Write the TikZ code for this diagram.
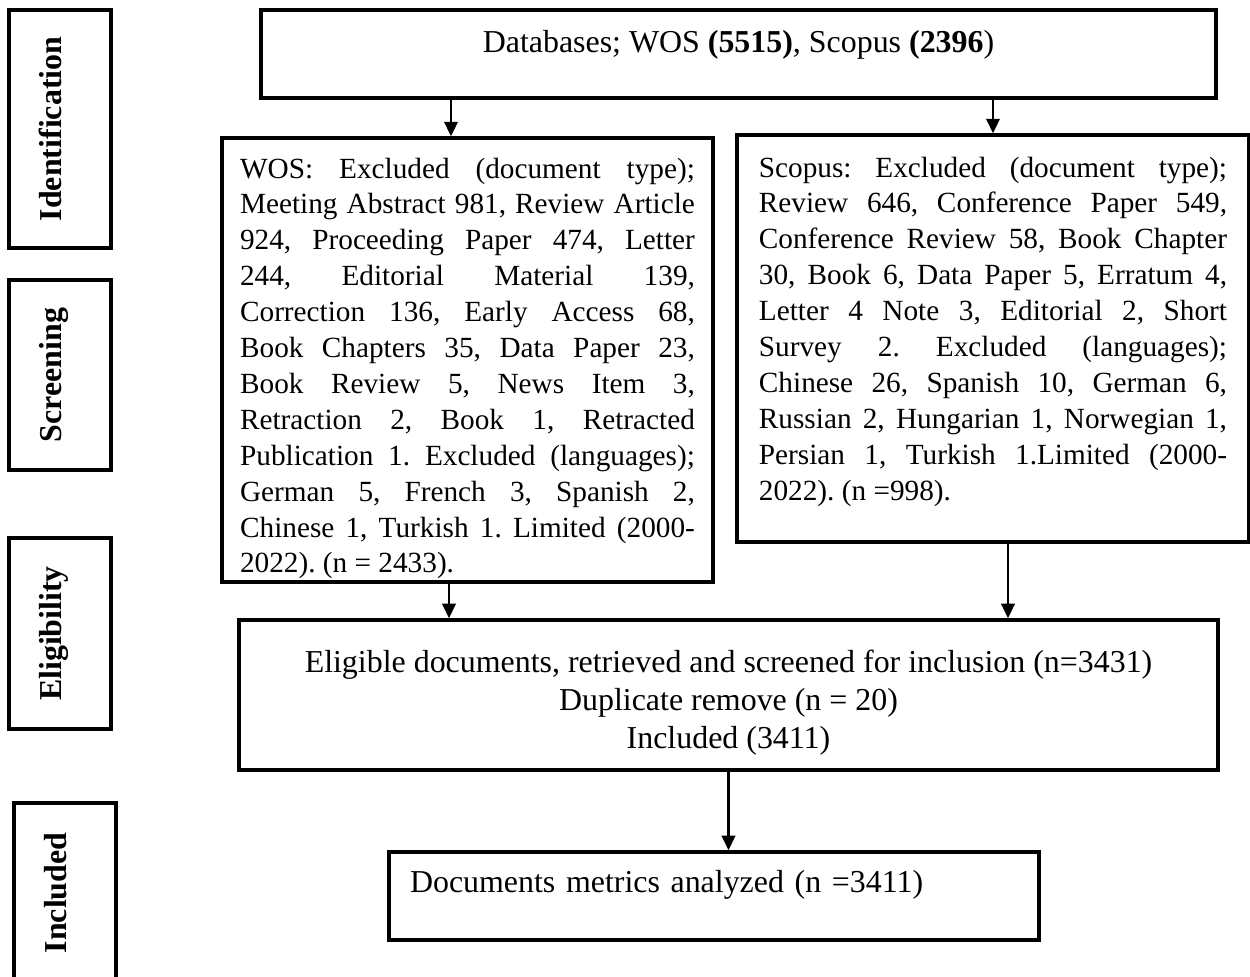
\documentclass[tikz,border=0pt]{standalone}
\usepackage{fontspec}
\setmainfont{Liberation Serif}
\usetikzlibrary{calc,arrows.meta}
\tolerance=10000
\hbadness=10000
\hyphenpenalty=10000
\frenchspacing

\begin{document}
\begin{tikzpicture}[x=0.376pt, y=-0.376pt]
    % Define styles
    \tikzstyle{stagebox}=[rectangle, draw=black, line width=1.25pt, rotate=90, inner sep=0pt, minimum height=38.4pt, text height=9pt, text depth=7.5pt, font=\bfseries\fontsize{12}{14}\selectfont]
    \tikzstyle{box}=[rectangle, draw=black, line width=1.25pt, inner sep=0pt, font=\fontsize{12}{14.3}\selectfont]
    \tikzstyle{listbox}=[box, align=justify, font=\fontsize{11}{13.5}\selectfont]
    \tikzstyle{arrow}=[-{Triangle[length=5.5pt, width=5pt]}, line width=1pt]

    % Page
    \path[use as bounding box, fill=white] (0,0) rectangle (1250,976);

    % Stage labels
    \node[stagebox, minimum width=89.5pt] (identification) at (60,129) {Identification};
    \node[stagebox, minimum width=71.4pt] (screening) at (60,375) {Screening};
    \node[stagebox, minimum width=71.8pt] (eligibility) at (60,633.5) {Eligibility};
    \node[stagebox, minimum width=67.7pt] (included) at (65,893) {Included};

    % Flow boxes
    \node[box, minimum width=359.1pt, minimum height=33.1pt, text height=9pt, text depth=9.75pt] (databases) at (738.5,54) {Databases; WOS \textbf{(5515)}, Scopus \textbf{(2396})};
    \node[listbox, minimum width=184.6pt, minimum height=166.9pt, text width=171pt] (wos) at (467.5,360) {\rule{0pt}{14pt}WOS: Excluded (document type);\linebreak
        Meeting Abstract 981, Review Article\linebreak
        924, Proceeding Paper 474, Letter\linebreak
        244, Editorial Material 139,\linebreak
        Correction 136, Early Access 68,\linebreak
        Book Chapters 35, Data Paper 23,\linebreak
        Book Review 5, News Item 3,\linebreak
        Retraction 2, Book 1, Retracted\linebreak
        Publication 1. Excluded (languages);\linebreak
        German 5, French 3, Spanish 2,\linebreak
        Chinese 1, Turkish 1. Limited (2000-\linebreak
        2022). (n = 2433).};
    \node[listbox, minimum width=192.5pt, minimum height=153pt, text width=176pt] (scopus) at (993,338.5) {\rule{0pt}{9pt}Scopus: Excluded (document type);\linebreak
        Review 646, Conference Paper 549,\linebreak
        Conference Review 58, Book Chapter\linebreak
        30, Book 6, Data Paper 5, Erratum 4,\linebreak
        Letter 4 Note 3, Editorial 2, Short\linebreak
        Survey 2. Excluded (languages);\linebreak
        Chinese 26, Spanish 10, German 6,\linebreak
        Russian 2, Hungarian 1, Norwegian 1,\linebreak
        Persian 1, Turkish 1.Limited (2000-\linebreak
        2022). (n =998).\rule[-8.9pt]{0pt}{0pt}};
    \node[box, minimum width=368.1pt, minimum height=56.4pt, align=center] (eligible) at (728.5,695) {\rule{0pt}{13.9pt}Eligible documents, retrieved and screened for inclusion (n=3431)\\Duplicate remove (n = 20)\\Included (3411)};
    \node[box, minimum width=244.4pt, minimum height=33.1pt, text width=228.6pt, align=left] (metrics) at (714,896) {\rule[-11.3pt]{0pt}{9pt}Documents metrics analyzed (n =3411)};

    % Arrow points off the box centres
    \coordinate (wosin) at ($(wos.north)+(-16.5,0)$);
    \coordinate (wosout) at ($(wos.south)+(-18.5,0)$);
    \coordinate (scopusout) at ($(scopus.south)+(15,0)$);

    % Connections
    \draw[arrow] (databases.south -| wosin) -- (wosin);
    \draw[arrow] (databases.south -| scopus.north) -- (scopus.north);
    \draw[arrow] (wosout) -- (wosout |- eligible.north);
    \draw[arrow] (scopusout) -- (scopusout |- eligible.north);
    \draw[arrow] (eligible.south) -- (eligible.south |- metrics.north);
\end{tikzpicture}
\end{document}
